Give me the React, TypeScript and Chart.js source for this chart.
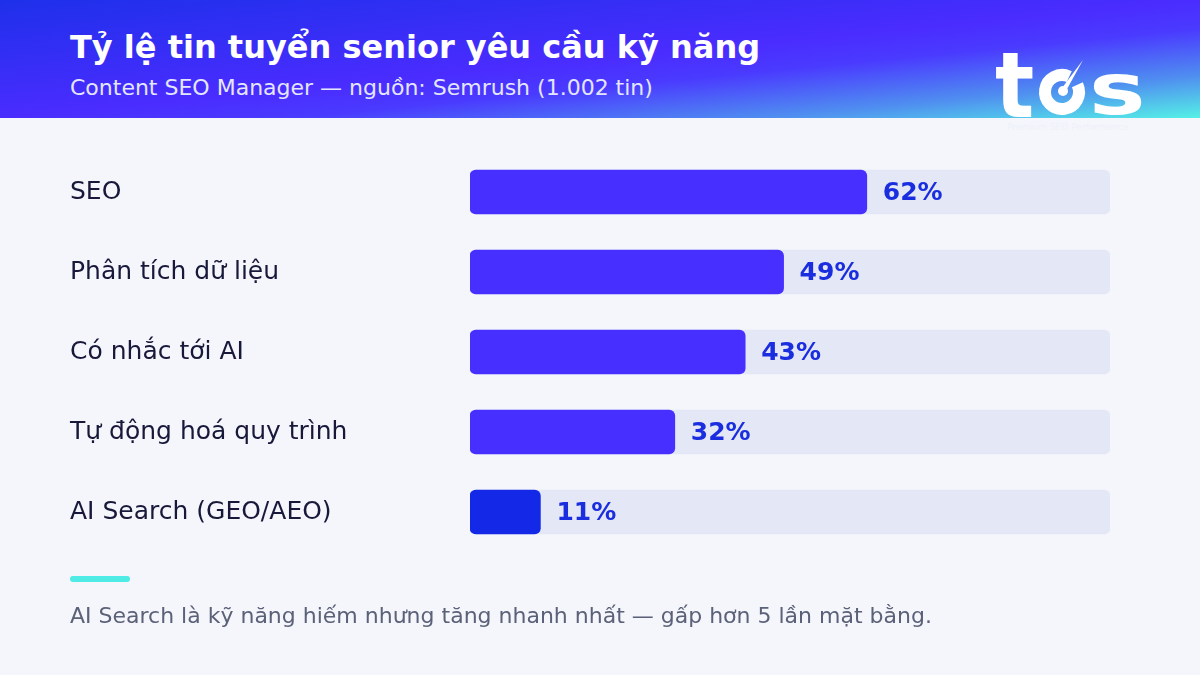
import React, { useEffect, useRef } from "react";
import { Chart, registerables } from "chart.js";

Chart.register(...registerables);

const categories = ["SEO", "Phân tích dữ liệu", "Có nhắc tới AI", "Tự động hoá quy trình", "AI Search (GEO/AEO)"];
const shares = [62, 49, 43, 32, 11];
const trackValues = [100, 100, 100, 100, 100];
const barColors = ["#4730ff", "#4730ff", "#4730ff", "#4730ff", "#1428e8"];

const FONT = "'DejaVu Sans', Verdana, sans-serif";

const labelPlugin = {
  id: "rowLabels",
  afterDatasetsDraw(chart: any) {
    const ctx = chart.ctx;
    const meta = chart.getDatasetMeta(1);
    ctx.save();
    meta.data.forEach((bar: any, i: number) => {
      ctx.font = `25px ${FONT}`;
      ctx.fillStyle = "#17183a";
      ctx.textAlign = "left";
      ctx.textBaseline = "middle";
      ctx.fillText(categories[i], 70, bar.y);
      ctx.font = `bold 25px ${FONT}`;
      ctx.fillStyle = "#1a2ee0";
      ctx.fillText(`${shares[i]}%`, bar.x + 16, bar.y + 1);
    });
    ctx.restore();
  },
};

function BarChart() {
  const ref = useRef<HTMLCanvasElement>(null);
  useEffect(() => {
    if (!ref.current) return;
    const chart = new Chart(ref.current, {
      type: "bar",
      data: {
        labels: categories,
        datasets: [
          {
            data: trackValues,
            backgroundColor: "#e4e8f6",
            borderRadius: 6,
            borderSkipped: false,
            barThickness: 44,
            grouped: false,
            order: 2,
          },
          {
            data: shares,
            backgroundColor: barColors,
            borderRadius: 6,
            borderSkipped: false,
            barThickness: 44,
            grouped: false,
            order: 1,
          },
        ],
      },
      options: {
        indexAxis: "y",
        animation: false,
        responsive: false,
        maintainAspectRatio: false,
        layout: { padding: { left: 470, right: 90, top: 152, bottom: 123 } },
        plugins: { legend: { display: false }, tooltip: { enabled: false } },
        scales: {
          x: { display: false, min: 0, max: 100 },
          y: { display: false },
        },
      },
      plugins: [labelPlugin],
    });
    return () => chart.destroy();
  }, []);
  return <canvas ref={ref} width={1200} height={675} style={{ position: "absolute", left: 0, top: 0 }} />;
}

function Logo() {
  return (
    <svg width={170} height={100} viewBox="0 0 170 100" style={{ position: "absolute", left: 985, top: 40 }}>
      <g transform="translate(10,77) scale(1.08,1.2)">
        <text x={0} y={0} fontFamily={FONT} fontWeight="bold" fontSize={76} fill="#ffffff">t</text>
      </g>
      <path d="M 92.4 44.8 A 17 17 0 1 1 84.2 36.6" fill="none" stroke="#ffffff" strokeWidth={12} />
      <circle cx={78} cy={51} r={5} fill="#ffffff" />
      <polygon points="75.9,49.6 80.1,52.4 98,20" fill="#ffffff" />
      <g transform="translate(104,74) scale(1.4,1.05)">
        <text x={0} y={0} fontFamily={FONT} fontWeight="bold" fontSize={68} fill="#ffffff">s</text>
      </g>
      <text x={22} y={90} fontFamily={FONT} fontSize={9} fill="#eef1fa">Premium SEO Performance</text>
    </svg>
  );
}

export default function App() {
  return (
    <div style={{ position: "absolute", left: 0, top: 0, width: 1200, height: 675, background: "#f5f6fb", overflow: "hidden", fontFamily: FONT }}>
      <div
        style={{
          position: "absolute",
          left: 0,
          top: 0,
          width: 1200,
          height: 118,
          background: "linear-gradient(to bottom right, #1e30ea 0%, #4a2cff 50%, #4a3aff 62%, #4f8ef0 82%, #55f0e6 100%)",
        }}
      >
        <div style={{ position: "absolute", left: 70, top: 28, color: "#ffffff", fontWeight: "bold", fontSize: 32, whiteSpace: "nowrap" }}>
          Tỷ lệ tin tuyển senior yêu cầu kỹ năng
        </div>
        <div style={{ position: "absolute", left: 70, top: 75, color: "#e4e6ff", fontSize: 22, whiteSpace: "nowrap" }}>
          Content SEO Manager — nguồn: Semrush (1.002 tin)
        </div>
      </div>
      <Logo />
      <BarChart />
      <div style={{ position: "absolute", left: 70, top: 576, width: 60, height: 6, borderRadius: 3, background: "#4eece4" }} />
      <div style={{ position: "absolute", left: 70, top: 603, color: "#5b6178", fontSize: 22, whiteSpace: "nowrap" }}>
        AI Search là kỹ năng hiếm nhưng tăng nhanh nhất — gấp hơn 5 lần mặt bằng.
      </div>
    </div>
  );
}
